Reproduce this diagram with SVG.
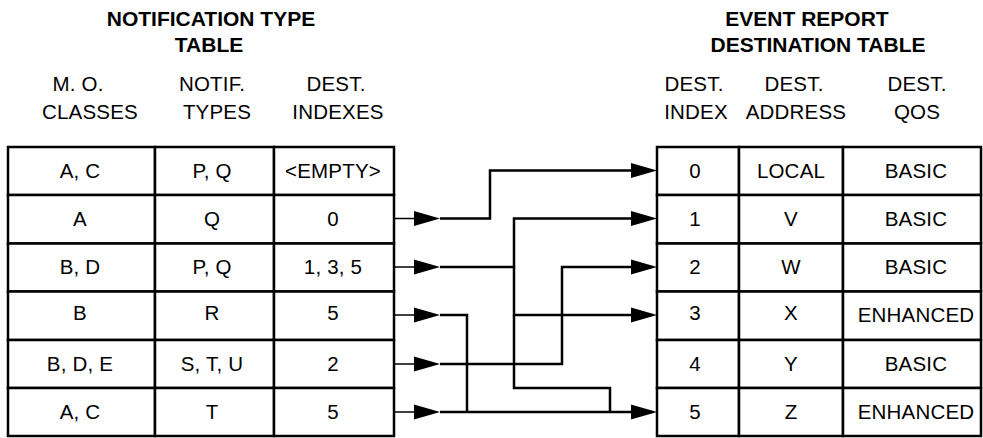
<svg xmlns="http://www.w3.org/2000/svg" width="983" height="438" viewBox="0 0 983 438">
<style>
  .t { font-family: "Liberation Sans", Arial, sans-serif; font-size: 20.5px; letter-spacing: 0.2px; text-anchor: middle; fill: #000; }
  .h { font-family: "Liberation Sans", Arial, sans-serif; font-size: 21px; font-weight: bold; text-anchor: middle; fill: #000; }
  .cell { fill: #fff; stroke: #000; stroke-width: 2.5; }
  .conn { fill: none; stroke: #000; stroke-width: 2.5; stroke-linejoin: miter; }
  .stub { fill: none; stroke: #000; stroke-width: 1.6; }
</style>
<defs>
  <marker id="ah" markerUnits="userSpaceOnUse" markerWidth="27" markerHeight="16" refX="21" refY="7.5" orient="auto" overflow="visible">
    <path d="M0,0 L26,7.5 L0,15 Z" fill="#000"/>
  </marker>
</defs>
<rect width="983" height="438" fill="#fff"/>

<g id="title-left">
  <text class="h" x="211" y="26">NOTIFICATION TYPE</text>
  <text class="h" x="209" y="52">TABLE</text>
</g>
<g id="title-right">
  <text class="h" x="807" y="26">EVENT REPORT</text>
  <text class="h" x="818" y="52">DESTINATION TABLE</text>
</g>
<g id="headers-left">
  <text class="t" x="78" y="91">M. O.</text>
  <text class="t" x="90" y="119">CLASSES</text>
  <text class="t" x="212" y="91">NOTIF.</text>
  <text class="t" x="217" y="119">TYPES</text>
  <text class="t" x="336" y="91">DEST.</text>
  <text class="t" x="338" y="119">INDEXES</text>
</g>
<g id="headers-right">
  <text class="t" x="694" y="91">DEST.</text>
  <text class="t" x="696" y="119">INDEX</text>
  <text class="t" x="794" y="91">DEST.</text>
  <text class="t" x="796" y="119">ADDRESS</text>
  <text class="t" x="917" y="91">DEST.</text>
  <text class="t" x="917" y="119">QOS</text>
</g>

<g id="nt-row0">
  <rect class="cell" x="8" y="147" width="147" height="48"/>
  <rect class="cell" x="155" y="147" width="119" height="48"/>
  <rect class="cell" x="274" y="147" width="120" height="48"/>
  <text class="t" x="80" y="177.5">A, C</text>
  <text class="t" x="212" y="177.5">P, Q</text>
  <text class="t" x="333" y="177.5">&lt;EMPTY&gt;</text>
</g>
<g id="nt-row1">
  <rect class="cell" x="8" y="195" width="147" height="48.5"/>
  <rect class="cell" x="155" y="195" width="119" height="48.5"/>
  <rect class="cell" x="274" y="195" width="120" height="48.5"/>
  <text class="t" x="80" y="225.5">A</text>
  <text class="t" x="212" y="225.5">Q</text>
  <text class="t" x="333" y="225.5">0</text>
</g>
<g id="nt-row2">
  <rect class="cell" x="8" y="243.5" width="147" height="48"/>
  <rect class="cell" x="155" y="243.5" width="119" height="48"/>
  <rect class="cell" x="274" y="243.5" width="120" height="48"/>
  <text class="t" x="80" y="274">B, D</text>
  <text class="t" x="212" y="274">P, Q</text>
  <text class="t" x="333" y="274">1, 3, 5</text>
</g>
<g id="nt-row3">
  <rect class="cell" x="8" y="291.5" width="147" height="48.5"/>
  <rect class="cell" x="155" y="291.5" width="119" height="48.5"/>
  <rect class="cell" x="274" y="291.5" width="120" height="48.5"/>
  <text class="t" x="80" y="320">B</text>
  <text class="t" x="212" y="320">R</text>
  <text class="t" x="333" y="320">5</text>
</g>
<g id="nt-row4">
  <rect class="cell" x="8" y="340" width="147" height="48"/>
  <rect class="cell" x="155" y="340" width="119" height="48"/>
  <rect class="cell" x="274" y="340" width="120" height="48"/>
  <text class="t" x="80" y="370.5">B, D, E</text>
  <text class="t" x="212" y="370.5">S, T, U</text>
  <text class="t" x="333" y="370.5">2</text>
</g>
<g id="nt-row5">
  <rect class="cell" x="8" y="388" width="147" height="48"/>
  <rect class="cell" x="155" y="388" width="119" height="48"/>
  <rect class="cell" x="274" y="388" width="120" height="48"/>
  <text class="t" x="80" y="418.5">A, C</text>
  <text class="t" x="212" y="418.5">T</text>
  <text class="t" x="333" y="418.5">5</text>
</g>

<g id="ed-row0">
  <rect class="cell" x="657" y="147" width="82" height="48"/>
  <rect class="cell" x="739" y="147" width="104" height="48"/>
  <rect class="cell" x="843" y="147" width="138" height="48"/>
  <text class="t" x="695" y="177.5">0</text>
  <text class="t" x="791" y="177.5">LOCAL</text>
  <text class="t" x="916" y="177.5">BASIC</text>
</g>
<g id="ed-row1">
  <rect class="cell" x="657" y="195" width="82" height="48.5"/>
  <rect class="cell" x="739" y="195" width="104" height="48.5"/>
  <rect class="cell" x="843" y="195" width="138" height="48.5"/>
  <text class="t" x="695" y="225.5">1</text>
  <text class="t" x="791" y="225.5">V</text>
  <text class="t" x="916" y="225.5">BASIC</text>
</g>
<g id="ed-row2">
  <rect class="cell" x="657" y="243.5" width="82" height="48"/>
  <rect class="cell" x="739" y="243.5" width="104" height="48"/>
  <rect class="cell" x="843" y="243.5" width="138" height="48"/>
  <text class="t" x="695" y="274">2</text>
  <text class="t" x="791" y="274">W</text>
  <text class="t" x="916" y="274">BASIC</text>
</g>
<g id="ed-row3">
  <rect class="cell" x="657" y="291.5" width="82" height="48.5"/>
  <rect class="cell" x="739" y="291.5" width="104" height="48.5"/>
  <rect class="cell" x="843" y="291.5" width="138" height="48.5"/>
  <text class="t" x="695" y="320">3</text>
  <text class="t" x="791" y="320">X</text>
  <text class="t" x="916" y="322">ENHANCED</text>
</g>
<g id="ed-row4">
  <rect class="cell" x="657" y="340" width="82" height="48"/>
  <rect class="cell" x="739" y="340" width="104" height="48"/>
  <rect class="cell" x="843" y="340" width="138" height="48"/>
  <text class="t" x="695" y="370.5">4</text>
  <text class="t" x="791" y="370.5">Y</text>
  <text class="t" x="916" y="370.5">BASIC</text>
</g>
<g id="ed-row5">
  <rect class="cell" x="657" y="388" width="82" height="48"/>
  <rect class="cell" x="739" y="388" width="104" height="48"/>
  <rect class="cell" x="843" y="388" width="138" height="48"/>
  <text class="t" x="695" y="418.5">5</text>
  <text class="t" x="791" y="418.5">Z</text>
  <text class="t" x="916" y="418.5">ENHANCED</text>
</g>

<g id="connectors">
  <path class="stub" d="M394,218.5 H435" marker-end="url(#ah)"/>
  <path class="stub" d="M394,267 H435" marker-end="url(#ah)"/>
  <path class="stub" d="M394,315 H435" marker-end="url(#ah)"/>
  <path class="stub" d="M394,364 H435" marker-end="url(#ah)"/>
  <path class="stub" d="M394,412 H435" marker-end="url(#ah)"/>
  <path class="conn" d="M440,218.5 H490 V170.5 H652" marker-end="url(#ah)"/>
  <path class="conn" d="M440,267 H514 V218.5 H652" marker-end="url(#ah)"/>
  <path class="conn" d="M514,267 V315 H652" marker-end="url(#ah)"/>
  <path class="conn" d="M514,315 V388 H610 V412"/>
  <path class="conn" d="M440,315 H467 V412"/>
  <path class="conn" d="M440,364 H562 V267 H652" marker-end="url(#ah)"/>
  <path class="conn" d="M440,412 H652" marker-end="url(#ah)"/>
</g>
</svg>
